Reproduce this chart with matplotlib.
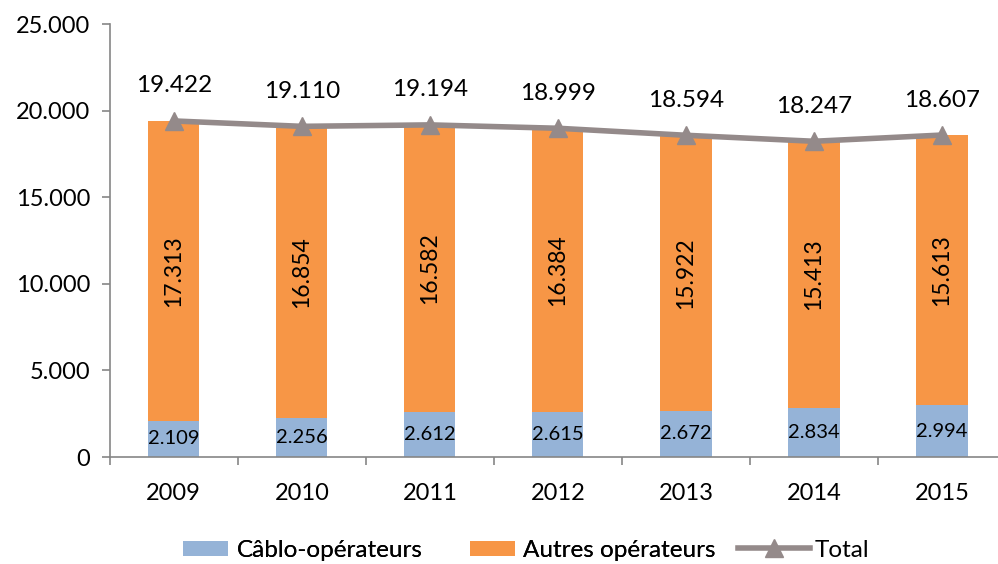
import matplotlib
matplotlib.use("Agg")
import matplotlib.pyplot as plt
from matplotlib.lines import Line2D
from matplotlib.patches import Patch

years = ["2009", "2010", "2011", "2012", "2013", "2014", "2015"]
cable = [2109, 2256, 2612, 2615, 2672, 2834, 2994]
others = [17313, 16854, 16582, 16384, 15922, 15413, 15613]
total = [19422, 19110, 19194, 18999, 18594, 18247, 18607]

def fmt(v):
    return f"{v:,}".replace(",", ".")

plt.rcParams['font.family'] = ['Lato', 'DejaVu Sans']

c_blue = "#95B3D7"
c_orange = "#F79646"
c_gray = "#948A8A"
c_axis = "#868686"

fig = plt.figure(figsize=(9.98, 5.64), dpi=100)
ax = fig.add_axes([0.110, 0.1897, 0.898, 0.767])

x = list(range(len(years)))
ax.bar(x, cable, width=0.4, color=c_blue, zorder=2)
ax.bar(x, others, width=0.4, bottom=cable, color=c_orange, zorder=2)
ax.plot(x, total, color=c_gray, lw=4, marker="^", markersize=13, zorder=3)

for i in x:
    ax.text(i, cable[i] / 2, fmt(cable[i]), ha="center", va="center", fontsize=14.5, color="black", zorder=4)
    ax.text(i, cable[i] + others[i] / 2, fmt(others[i]), ha="center", va="center", rotation=90,
            fontsize=16.5, color="black", zorder=4)
    ax.text(i, total[i] + 2020, fmt(total[i]), ha="center", va="center", fontsize=17.5, color="black", zorder=4)

ax.set_xlim(-0.5, 6.5)
ax.set_ylim(0, 25000)
ticks = [0, 5000, 10000, 15000, 20000, 25000]
ax.set_yticks(ticks)
ax.set_yticklabels([fmt(v) for v in ticks], fontsize=17)
ax.set_xticks(x)
ax.set_xticklabels(years, fontsize=17)
ax.set_xticks([i - 0.5 for i in range(len(years) + 1)], minor=True)
ax.tick_params(axis="x", which="major", length=0, pad=19)
ax.tick_params(axis="x", which="minor", length=6, color=c_axis, width=1.2)
ax.tick_params(axis="y", length=6, color=c_axis, width=1.2, pad=8)

for s in ["top", "right"]:
    ax.spines[s].set_visible(False)
for s in ["left", "bottom"]:
    ax.spines[s].set_color(c_axis)
    ax.spines[s].set_linewidth(1.2)

fs_leg = 17.5
h1 = [Patch(facecolor=c_blue, label="Câblo-opérateurs"),
      Patch(facecolor=c_orange, label="Autres opérateurs")]
leg1 = fig.legend(handles=h1, loc="center left", bbox_to_anchor=(183 / 998, 0.024), ncol=2, frameon=False,
                  fontsize=fs_leg, handlelength=1.85, handleheight=0.6, columnspacing=1.95,
                  handletextpad=0.35, borderpad=0, borderaxespad=0)
h2 = [Line2D([0], [0], color=c_gray, lw=4, marker="^", markersize=13, label="Total")]
leg2 = fig.legend(handles=h2, loc="center left", bbox_to_anchor=(738 / 998, 0.024), frameon=False,
                  fontsize=fs_leg, handlelength=2.95, handletextpad=0.2, borderpad=0, borderaxespad=0)
fig.add_artist(leg1)

fig.savefig("out.png", dpi=100)
